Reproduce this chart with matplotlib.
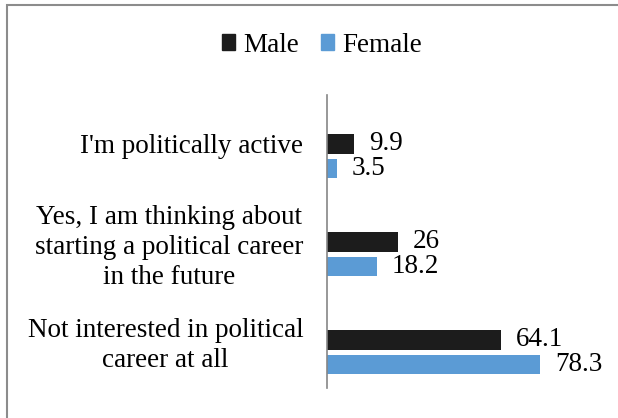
import matplotlib.pyplot as plt
from matplotlib.patches import Rectangle, Patch

categories = ["I'm politically active",
              "Yes, I am thinking about\nstarting a political career\nin the future",
              "Not interested in political\ncareer at all"]
male = [9.9, 26, 64.1]
female = [3.5, 18.2, 78.3]

male_color = '#1c1c1c'
female_color = '#5b9bd5'

plt.rcParams['font.family'] = ['Liberation Serif', 'DejaVu Serif']
plt.rcParams['font.size'] = 19.5

fig = plt.figure(figsize=(6.18, 4.18), dpi=100)
ax = fig.add_axes([327 / 618, 1 - 388 / 418, 272 / 618, (388 - 95) / 418])

ypos = list(range(len(categories)))
h = 0.195
ax.barh([y for y in ypos], male, height=h, color=male_color)
ax.barh([y + 0.25 for y in ypos], female, height=h, color=female_color)

for y, v in zip(ypos, male):
    ax.text(v + 5.5, y, f'{v:g}', va='center', ha='left')
for y, v in zip(ypos, female):
    ax.text(v + 5.5, y + 0.25, f'{v:g}', va='center', ha='left')

ax.set_xlim(0, 100)
ax.set_ylim(2.49, -0.5)
ax.set_yticks(ypos)
ax.set_yticklabels(categories, multialignment='center', linespacing=1.25)
ax.tick_params(axis='y', length=0, pad=17)
ax.set_xticks([])
for s in ['top', 'right', 'bottom']:
    ax.spines[s].set_visible(False)
ax.spines['left'].set_color('#868686')
ax.spines['left'].set_linewidth(1.2)

handles = [Patch(color=male_color, label='Male'), Patch(color=female_color, label='Female')]
fig.legend(handles=handles, loc='center', bbox_to_anchor=(322 / 618, 1 - 45 / 418),
           ncol=2, frameon=False, handlelength=0.5, handleheight=0.5,
           handletextpad=0.3, columnspacing=0.8)

# chart border
fig.patches.append(Rectangle((7 / 618, -0.1), 1.2, 1 - 5 / 418 + 0.1,
                             transform=fig.transFigure, fill=False,
                             edgecolor='#8c8c8c', linewidth=1.5))

fig.savefig('out.png', dpi=100)
